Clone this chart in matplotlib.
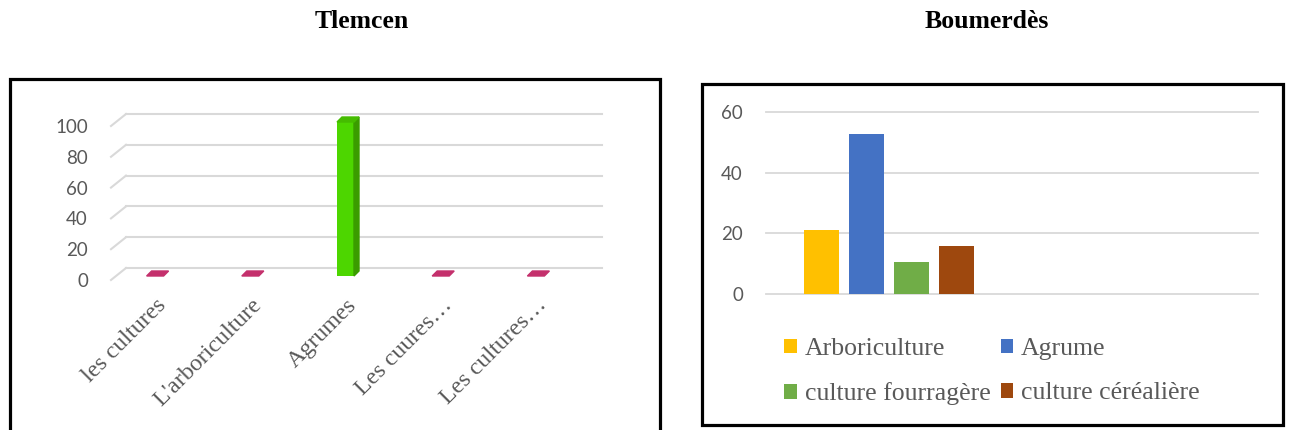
import matplotlib
matplotlib.use("Agg")
import matplotlib.pyplot as plt
from matplotlib.patches import Polygon, Rectangle
from matplotlib.transforms import ScaledTranslation

# Tlemcen (3D column chart)
tlemcen_labels = ["les cultures", "L'arboriculture", "Agrumes", "Les cuures…", "Les cultures…"]
tlemcen_values = [0, 0, 100, 0, 0]
tlemcen_ticks = [0, 20, 40, 60, 80, 100]

# Boumerdès (clustered columns, one category)
boum_series = ["Arboriculture", "Agrume", "culture fourragère", "culture céréalière"]
boum_values = [21.05, 52.63, 10.53, 15.79]
boum_ticks = [0, 20, 40, 60]

W, H = 1289, 430
SERIF = ["Liberation Serif", "DejaVu Serif"]
SANS = ["Lato", "DejaVu Sans"]
GRAY = "#595959"
GRID = "#D9D9D9"

fig = plt.figure(figsize=(W / 100, H / 100), dpi=100)


def px_box(x0, y0, x1, y1):
    """ figure-fraction rect from pixel corners (y from top) """
    return [x0 / W, 1 - y1 / H, (x1 - x0) / W, (y1 - y0) / H]


def px_shift(dx, dy):
    """ display offset in pixels, dy positive = down """
    return ScaledTranslation(dx / 100, -dy / 100, fig.dpi_scale_trans)


# frames and titles
fig.patches.append(Rectangle((9.5 / W, -0.05), (659.5 - 9.5) / W, 1.05 - 78.5 / H,
                             transform=fig.transFigure, fill=False, lw=2.3, ec="black"))
fig.patches.append(Rectangle((701.5 / W, 1 - 425 / H), (1282.5 - 701.5) / W, (425 - 84) / H,
                             transform=fig.transFigure, fill=False, lw=2.3, ec="black"))
fig.text(362 / W, 1 - 22 / H, "Tlemcen", ha="center", va="center",
         family=SERIF, weight="bold", fontsize=18.5)
fig.text(987 / W, 1 - 22 / H, "Boumerdès", ha="center", va="center",
         family=SERIF, weight="bold", fontsize=18.5)

# ---- left chart ----
ax1 = fig.add_axes(px_box(126, 114, 602, 268))
n = len(tlemcen_values)
ax1.set_xlim(-0.5, n - 0.5)
ax1.set_ylim(0, 100)
ax1.patch.set_visible(False)
for s in ax1.spines.values():
    s.set_visible(False)
px_x = 476 / n       # pixels per category
px_y = 154 / 100     # pixels per unit

for v in tlemcen_ticks:
    ax1.plot([-0.5, n - 0.5], [v, v], color=GRID, lw=1.5, clip_on=False, zorder=1)
    ax1.plot([-0.5 - 15 / px_x, -0.5], [v - 12 / px_y, v], color=GRID, lw=1.5,
             clip_on=False, zorder=1)

point_colors = ["#C4306C", "#C4306C", "#4DD600", "#C4306C", "#C4306C"]
side_colors = ["#C4306C", "#C4306C", "#3A9C00", "#C4306C", "#C4306C"]
top_colors = ["#C4306C", "#C4306C", "#45BC00", "#C4306C", "#C4306C"]
bw = 17 / px_x
fx, fy = -18.5 / px_x, -8 / px_y
ddx, ddy = 5 / px_x, 5 / px_y
for i, v in enumerate(tlemcen_values):
    x0 = i + fx - bw / 2
    x1 = i + fx + bw / 2
    top = fy + v
    if v > 0:
        ax1.bar(i + fx, v, bottom=fy, width=bw, color=point_colors[i], clip_on=False, zorder=3)
        ax1.add_patch(Polygon([(x1, fy), (x1 + ddx, fy + ddy), (x1 + ddx, top + ddy), (x1, top)],
                              closed=True, color=side_colors[i], clip_on=False, zorder=3))
    ax1.add_patch(Polygon([(x0, top), (x1, top), (x1 + ddx, top + ddy), (x0 + ddx, top + ddy)],
                          closed=True, color=top_colors[i], clip_on=False, zorder=3))

ax1.set_yticks(tlemcen_ticks)
ax1.tick_params(axis="y", length=0, pad=(126 - 88) * 0.72, labelsize=13.5, labelcolor=GRAY)
for lbl in ax1.get_yticklabels():
    lbl.set_family(SANS)
    lbl.set_transform(lbl.get_transform() + px_shift(0, 12))

# category labels, rotated, under the front edge of the floor
ax1.set_xticks([])
for i, lab in enumerate(tlemcen_labels):
    ax1.text(i, 0, lab, transform=ax1.get_xaxis_transform() + px_shift(-10.5, 34),
             rotation=45, rotation_mode="anchor", ha="right", va="center",
             family=SERIF, fontsize=17.3, color=GRAY)

# ---- right chart ----
ax2 = fig.add_axes(px_box(766, 112, 1258, 294))
ax2.set_xlim(-0.5, 1.5)
ax2.set_ylim(0, 60)
for s in ax2.spines.values():
    s.set_visible(False)
for v in boum_ticks:
    ax2.axhline(v, color=GRID, lw=1.3, clip_on=False, zorder=0)

bar_colors = ["#FFC000", "#4472C4", "#70AD47", "#9E480E"]
step = 44.7 / 246
width = 35 / 246
handles = []
for k, (name, v) in enumerate(zip(boum_series, boum_values)):
    b = ax2.bar((k - 1.5) * step, v, width=width, color=bar_colors[k], label=name, zorder=2)
    handles.append(b)

ax2.set_xticks([])
ax2.set_yticks(boum_ticks)
ax2.tick_params(axis="y", length=0, pad=23 * 0.72, labelsize=13.5, labelcolor=GRAY)
for lbl in ax2.get_yticklabels():
    lbl.set_family(SANS)

order = [0, 2, 1, 3]
leg = fig.legend([handles[i] for i in order], [boum_series[i] for i in order],
                 ncol=2, loc="upper left", bbox_to_anchor=(784 / W, 1 - 338 / H),
                 frameon=False, borderpad=0, borderaxespad=0,
                 handlelength=0.5, handleheight=0.5, handletextpad=0.3,
                 columnspacing=0.4, labelspacing=0.87,
                 prop={"family": SERIF, "size": 18.5})
for t in leg.get_texts():
    t.set_color(GRAY)

fig.savefig("out.png", dpi=100)
